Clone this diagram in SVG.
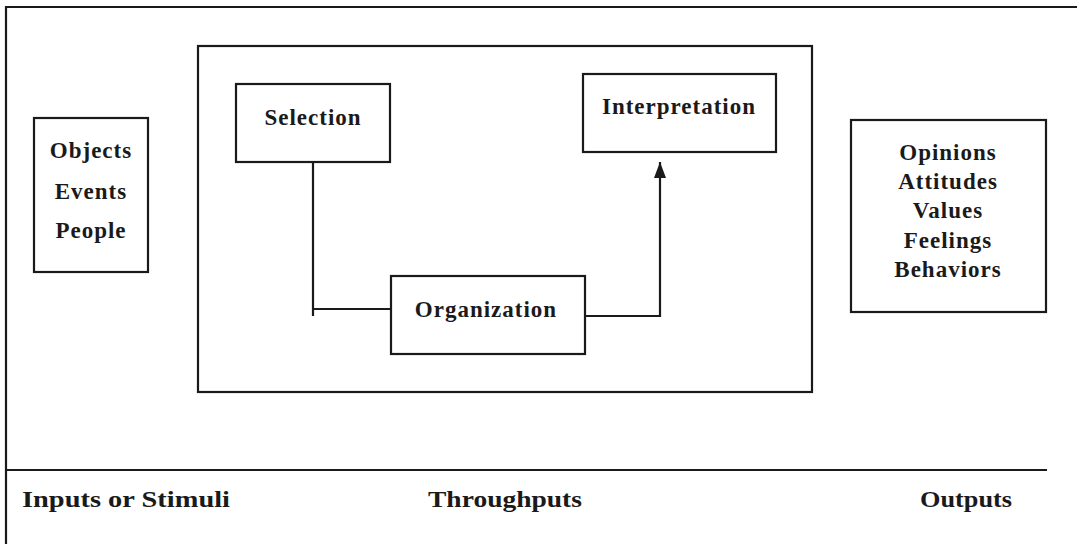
<svg xmlns="http://www.w3.org/2000/svg" width="1077" height="544" viewBox="0 0 1077 544">
<style>
.box{fill:#fff;stroke:#1a1a1a;stroke-width:2.2}
.ln{fill:none;stroke:#1a1a1a;stroke-width:2.2}
.t{font-family:"Liberation Serif","DejaVu Serif",serif;font-weight:bold;font-size:23px;letter-spacing:1px;fill:#1a1a1a;text-anchor:middle}
.lbl{font-family:"Liberation Serif","DejaVu Serif",serif;font-weight:bold;font-size:23px;fill:#1a1a1a}
</style>
<defs>
<marker id="ah" markerWidth="16" markerHeight="12" refX="16" refY="6" orient="auto" markerUnits="userSpaceOnUse" viewBox="0 0 16 12">
<path d="M0,0 L16,6 L0,12 Z" fill="#1a1a1a"/>
</marker>
</defs>
<rect width="1077" height="544" fill="#fff"/>
<g id="frame">
<path class="ln" d="M6,544 V7 H1077"/>
<path class="ln" d="M6,470 H1047"/>
</g>
<g id="throughputs-box"><rect class="box" x="198" y="46" width="614" height="346"/></g>
<g id="connectors">
<path class="ln" d="M313,162 V316"/>
<path class="ln" d="M313,309 H391"/>
<path class="ln" d="M585,316 H660 V162" marker-end="url(#ah)"/>
</g>
<g id="inputs"><rect class="box" x="34" y="118" width="114" height="154"/>
<text class="t" x="91" y="158">Objects</text>
<text class="t" x="91" y="199">Events</text>
<text class="t" x="91" y="238">People</text></g>
<g id="selection"><rect class="box" x="236" y="84" width="154" height="78"/>
<text class="t" x="313" y="125">Selection</text></g>
<g id="interpretation"><rect class="box" x="583" y="74" width="193" height="78"/>
<text class="t" x="679" y="114">Interpretation</text></g>
<g id="organization"><rect class="box" x="391" y="276" width="194" height="78"/>
<text class="t" x="486" y="317">Organization</text></g>
<g id="outputs"><rect class="box" x="851" y="120" width="195" height="192"/>
<text class="t" x="948" y="160">Opinions</text>
<text class="t" x="948" y="189">Attitudes</text>
<text class="t" x="948" y="218">Values</text>
<text class="t" x="948" y="248">Feelings</text>
<text class="t" x="948" y="277">Behaviors</text></g>
<g id="labels">
<text class="lbl" x="22" y="507" textLength="208" lengthAdjust="spacingAndGlyphs">Inputs or Stimuli</text>
<text class="lbl" x="428" y="507" textLength="154" lengthAdjust="spacingAndGlyphs">Throughputs</text>
<text class="lbl" x="920" y="507" textLength="92" lengthAdjust="spacingAndGlyphs">Outputs</text>
</g>
</svg>
